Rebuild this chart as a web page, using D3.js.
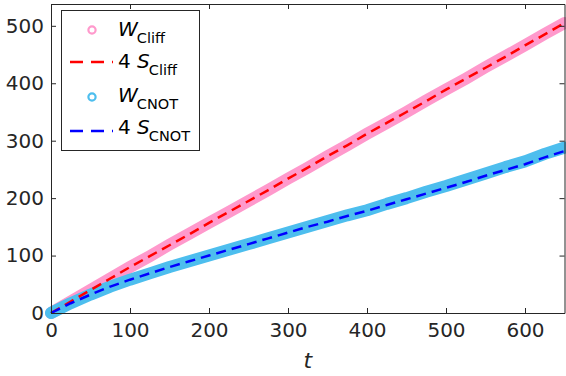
<!DOCTYPE html>
<html>
<head>
<meta charset="utf-8">
<script src="https://cdn.jsdelivr.net/npm/d3@7"></script>
<style>
  html, body { margin: 0; padding: 0; background: #fff; }
  svg { display: block; font-family: "DejaVu Sans", sans-serif; }
</style>
</head>
<body>
<svg id="chart" width="566" height="376"></svg>
<script>
// ---- data ----
const tValues = [0, 25, 50, 75, 100, 125, 150, 175, 200, 225, 250, 275, 300, 325,
                 350, 375, 400, 425, 450, 475, 500, 525, 550, 575, 600, 625, 650];
const wCliff  = [0, 20, 40, 60, 80, 99, 119, 138, 157, 176, 195, 214, 234, 253,
                 273, 292, 312, 331, 350, 370, 389, 408, 428, 447, 466, 486, 505];
const sCliff  = [0, 20, 40, 60, 80, 99, 118, 137, 157, 176, 195, 214, 234, 253,
                 273, 292, 312, 331, 350, 369, 389, 408, 427, 446, 466, 485, 505];
const wCnot   = [0, 17, 32, 46, 58, 69, 80, 90, 100, 110, 120, 130, 140, 150,
                 160, 170, 179, 190, 200, 211, 221, 232, 243, 254, 264, 277, 288];
const sCnot   = [0, 17, 32, 46, 58, 69, 80, 90, 100, 110, 120, 130, 140, 150,
                 159, 169, 178, 188, 198, 208, 218, 228, 239, 249, 259, 271, 282];
const xTicks = [0, 100, 200, 300, 400, 500, 600];
const yTicks = [0, 100, 200, 300, 400, 500];
const xDomain = [0, 650];
const yDomain = [0, 538];

// ---- layout ----
const svg = d3.select("#chart");
const L = 51, R = 564.5, T = 4, B = 313;
const x = d3.scaleLinear().domain(xDomain).range([L, R]);
const y = d3.scaleLinear().domain(yDomain).range([B, T]);
const axisColor = "#262626";

const pts = arr => tValues.map((t, i) => [t, arr[i]]);
const line = d3.line().x(d => x(d[0])).y(d => y(d[1]));

// bands (W series, dense circle markers -> thick band)
svg.append("path").attr("d", line(pts(wCliff)))
  .attr("fill", "none").attr("stroke", "#FF99CC").attr("stroke-width", 12)
  .attr("stroke-linecap", "round").attr("stroke-linejoin", "round");
svg.append("path").attr("d", line(pts(wCnot)))
  .attr("fill", "none").attr("stroke", "#4DBEEE").attr("stroke-width", 12)
  .attr("stroke-linecap", "round").attr("stroke-linejoin", "round");

// dashed S series
svg.append("path").attr("d", line(pts(sCliff)))
  .attr("fill", "none").attr("stroke", "#FF0000").attr("stroke-width", 2.5)
  .attr("stroke-dasharray", "10,6");
svg.append("path").attr("d", line(pts(sCnot)))
  .attr("fill", "none").attr("stroke", "#0000FF").attr("stroke-width", 2.5)
  .attr("stroke-dasharray", "10,6");

// axes
const tickLen = 5;
const gx = svg.append("g").attr("transform", `translate(0,${B})`)
  .call(d3.axisBottom(x).tickValues(xTicks).tickSizeInner(-tickLen).tickSizeOuter(0).tickPadding(10));
const gxTop = svg.append("g").attr("transform", `translate(0,${T})`)
  .call(d3.axisTop(x).tickValues(xTicks).tickSizeInner(-tickLen).tickSizeOuter(0).tickFormat(""));
const gy = svg.append("g").attr("transform", `translate(${L},0)`)
  .call(d3.axisLeft(y).tickValues(yTicks).tickSizeInner(-tickLen).tickSizeOuter(0).tickPadding(7));
const gyR = svg.append("g").attr("transform", `translate(${R},0)`)
  .call(d3.axisRight(y).tickValues(yTicks).tickSizeInner(-tickLen).tickSizeOuter(0).tickFormat(""));
[gx, gxTop, gy, gyR].forEach(g => {
  g.selectAll("path").attr("stroke", axisColor).attr("stroke-width", 1);
  g.selectAll("line").attr("stroke", axisColor).attr("stroke-width", 1);
  g.selectAll("text").attr("fill", axisColor).style("font-size", "20px")
    .style("font-family", "'DejaVu Sans', sans-serif");
});
gx.selectAll("text").attr("dy", "0.71em");

// x label
svg.append("text").attr("x", (L + R) / 2).attr("y", 368)
  .attr("text-anchor", "middle").attr("fill", axisColor)
  .style("font-size", "22px").style("font-style", "italic").text("t");

// legend
const lg = svg.append("g");
lg.append("rect").attr("x", 61.5).attr("y", 10.5).attr("width", 138).attr("height", 140)
  .attr("fill", "#fff").attr("stroke", axisColor).attr("stroke-width", 1);

const entries = [
  { kind: "marker", color: "#FF99CC", main: "W", sub: "Cliff", ym: 30, yb: 36 },
  { kind: "dash", color: "#FF0000", pre: "4 ", main: "S", sub: "Cliff", ym: 62, yb: 67.5 },
  { kind: "marker", color: "#4DBEEE", main: "W", sub: "CNOT", ym: 97, yb: 102 },
  { kind: "dash", color: "#0000FF", pre: "4 ", main: "S", sub: "CNOT", ym: 131, yb: 134 }
];
entries.forEach(e => {
  if (e.kind === "marker") {
    lg.append("circle").attr("cx", 92).attr("cy", e.ym).attr("r", 3.6)
      .attr("fill", "none").attr("stroke", e.color).attr("stroke-width", 2.2);
  } else {
    lg.append("line").attr("x1", 70).attr("x2", 113).attr("y1", e.ym).attr("y2", e.ym)
      .attr("stroke", e.color).attr("stroke-width", 2.5).attr("stroke-dasharray", "13,8");
  }
  const t = lg.append("text").attr("x", 118).attr("y", e.yb).attr("fill", "#000")
    .style("font-size", "20px");
  if (e.pre) t.append("tspan").text(e.pre);
  t.append("tspan").style("font-style", "italic").text(e.main);
  t.append("tspan").style("font-size", "14.5px").attr("dy", 7).attr("dx", -1).text(e.sub);
});
</script>
</body>
</html>
